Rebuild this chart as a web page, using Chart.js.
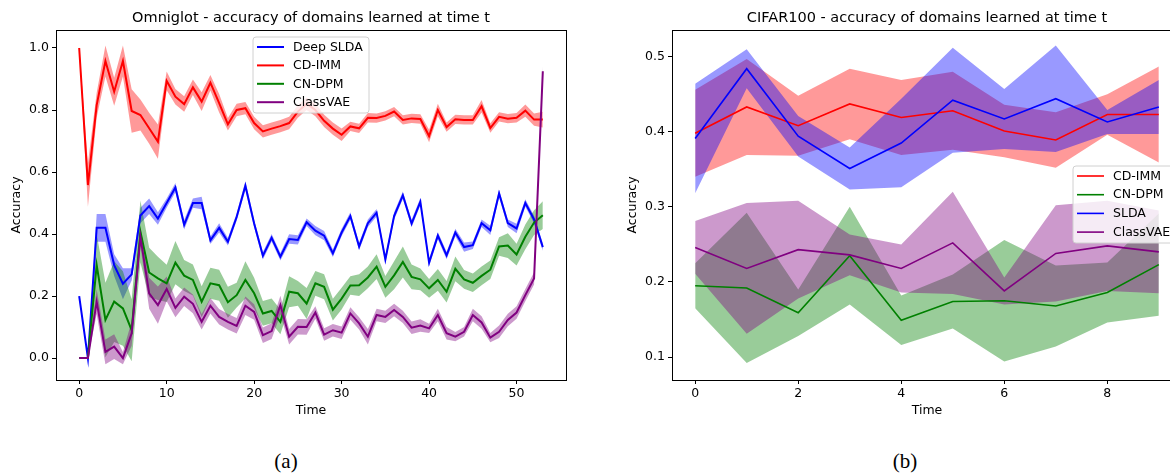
<!DOCTYPE html>
<html>
<head>
<meta charset="utf-8">
<script src="https://cdn.jsdelivr.net/npm/chart.js@4.4.1/dist/chart.umd.min.js"></script>
<style>
  html, body { margin: 0; padding: 0; background: #fff; width: 1170px; height: 473px; overflow: hidden; }
  canvas { position: absolute; top: 0; }
  .cap { position: absolute; top: 449px; width: 100px; text-align: center; line-height: 24px;
         font-family: 'Liberation Serif', 'DejaVu Serif', serif; font-size: 21px; color: #000; }
</style>
</head>
<body>
<canvas id="omniglot" width="580" height="430" style="left:0"></canvas>
<canvas id="cifar" width="580" height="430" style="left:616px"></canvas>
<div class="cap" style="left:236px">(a)</div>
<div class="cap" style="left:855px">(b)</div>
<script>
// Omniglot, 54 time steps
const omniTime = Array.from({length: 54}, (_, i) => i);
const omniSlda = [0.20, 0.00, 0.42, 0.42, 0.30, 0.24, 0.27, 0.46, 0.49, 0.45,
  0.50, 0.55, 0.43, 0.50, 0.50, 0.38, 0.42, 0.375, 0.455, 0.556,
  0.434, 0.33, 0.388, 0.327, 0.384, 0.381, 0.438, 0.411, 0.395, 0.338,
  0.405, 0.458, 0.36, 0.435, 0.469, 0.318, 0.458, 0.525, 0.434, 0.504,
  0.308, 0.395, 0.331, 0.405, 0.358, 0.364, 0.435, 0.412, 0.531, 0.435,
  0.418, 0.50, 0.447, 0.358];
const omniSldaErr = [0, 0, 0.045, 0.045, 0.035, 0.05, 0.02, 0.025, 0.025, 0.02,
  0.015, 0.015, 0.015, 0.015, 0.02, 0.012, 0.015, 0.012, 0.012, 0.015,
  0.012, 0.012, 0.012, 0.012, 0.015, 0.015, 0.012, 0.015, 0.015, 0.012,
  0.012, 0.012, 0.012, 0.012, 0.012, 0.012, 0.012, 0.012, 0.012, 0.012,
  0.012, 0.012, 0.012, 0.012, 0.015, 0.012, 0.012, 0.015, 0.012, 0.012,
  0.015, 0.012, 0.012, 0.012];
const omniCdimm = [1.0, 0.558, 0.816, 0.958, 0.859, 0.958, 0.797, 0.784, 0.741, 0.698,
  0.894, 0.843, 0.819, 0.873, 0.827, 0.888, 0.822, 0.754, 0.80, 0.806,
  0.758, 0.731, 0.74, 0.748, 0.758, 0.795, 0.82, 0.80, 0.765, 0.74,
  0.72, 0.747, 0.741, 0.775, 0.774, 0.781, 0.795, 0.768, 0.773, 0.771,
  0.716, 0.80, 0.745, 0.77, 0.768, 0.768, 0.812, 0.742, 0.778, 0.772,
  0.775, 0.798, 0.769, 0.769];
const omniCdimmErr = [0.005, 0.07, 0.04, 0.05, 0.045, 0.05, 0.07, 0.05, 0.05, 0.055,
  0.03, 0.025, 0.025, 0.025, 0.03, 0.025, 0.03, 0.02, 0.02, 0.02,
  0.02, 0.02, 0.02, 0.02, 0.02, 0.02, 0.02, 0.02, 0.02, 0.02,
  0.02, 0.015, 0.015, 0.015, 0.015, 0.015, 0.015, 0.015, 0.015, 0.015,
  0.02, 0.02, 0.015, 0.015, 0.015, 0.015, 0.02, 0.015, 0.015, 0.015,
  0.015, 0.02, 0.02, 0.025];
const omniCndpm = [0, 0, 0.30, 0.123, 0.182, 0.16, 0.09, 0.408, 0.276, 0.257,
  0.241, 0.308, 0.266, 0.252, 0.182, 0.241, 0.235, 0.18, 0.203, 0.252,
  0.209, 0.144, 0.152, 0.117, 0.214, 0.209, 0.176, 0.241, 0.23, 0.156,
  0.192, 0.234, 0.235, 0.26, 0.295, 0.23, 0.267, 0.31, 0.262, 0.254,
  0.225, 0.252, 0.214, 0.288, 0.254, 0.243, 0.265, 0.285, 0.36, 0.363,
  0.334, 0.391, 0.437, 0.461];
const omniCndpmErr = [0, 0, 0.1, 0.12, 0.13, 0.12, 0.1, 0.1, 0.08, 0.07,
  0.06, 0.07, 0.05, 0.05, 0.05, 0.05, 0.05, 0.05, 0.04, 0.06,
  0.05, 0.04, 0.04, 0.04, 0.05, 0.04, 0.05, 0.04, 0.04, 0.035,
  0.035, 0.03, 0.035, 0.035, 0.04, 0.035, 0.045, 0.05, 0.04, 0.035,
  0.03, 0.035, 0.035, 0.04, 0.03, 0.03, 0.03, 0.03, 0.03, 0.04,
  0.035, 0.04, 0.04, 0.045];
const omniClassvae = [0, 0, 0.182, 0.02, 0.037, 0.0, 0.08, 0.391, 0.209, 0.171,
  0.223, 0.162, 0.198, 0.175, 0.117, 0.169, 0.133, 0.117, 0.104, 0.169,
  0.149, 0.074, 0.087, 0.171, 0.069, 0.101, 0.10, 0.147, 0.076, 0.09,
  0.082, 0.144, 0.112, 0.069, 0.139, 0.133, 0.155, 0.133, 0.098, 0.105,
  0.096, 0.139, 0.08, 0.069, 0.085, 0.139, 0.115, 0.066, 0.085, 0.123,
  0.147, 0.203, 0.257, 0.925];
const omniClassvaeErr = [0, 0, 0.04, 0.04, 0.04, 0.02, 0.04, 0.03, 0.05, 0.06,
  0.04, 0.03, 0.03, 0.03, 0.025, 0.025, 0.025, 0.025, 0.025, 0.03,
  0.025, 0.025, 0.025, 0.03, 0.025, 0.025, 0.025, 0.02, 0.02, 0.02,
  0.02, 0.02, 0.02, 0.025, 0.02, 0.02, 0.02, 0.02, 0.02, 0.02,
  0.015, 0.02, 0.02, 0.015, 0.015, 0.02, 0.02, 0.015, 0.02, 0.02,
  0.02, 0.02, 0.02, 0.015];
const omniXTicks = [0, 10, 20, 30, 40, 50];
const omniYTicks = [0.0, 0.2, 0.4, 0.6, 0.8, 1.0];

// CIFAR100, 10 time steps
const cifarTime = [0, 1, 2, 3, 4, 5, 6, 7, 8, 9];
const cifarCdimm = [0.398, 0.433, 0.408, 0.437, 0.419, 0.428, 0.401, 0.389, 0.423, 0.423];
const cifarCdimmErr = [0.058, 0.064, 0.04, 0.047, 0.05, 0.052, 0.035, 0.037, 0.027, 0.064];
const cifarCndpm = [0.195, 0.192, 0.159, 0.235, 0.149, 0.174, 0.175, 0.168, 0.186, 0.223];
const cifarCndpmErr = [0.03, 0.1, 0.031, 0.065, 0.033, 0.036, 0.081, 0.054, 0.04, 0.068];
const cifarSlda = [0.391, 0.484, 0.394, 0.351, 0.385, 0.442, 0.417, 0.444, 0.413, 0.433];
const cifarSldaErr = [0.073, 0.026, 0.027, 0.028, 0.059, 0.07, 0.04, 0.071, 0.016, 0.036];
const cifarClassvae = [0.246, 0.218, 0.243, 0.236, 0.218, 0.252, 0.188, 0.238, 0.248, 0.24];
const cifarClassvaeErr = [0.035, 0.087, 0.065, 0.027, 0.032, 0.068, 0.018, 0.064, 0.06, 0.055];
const cifarXTicks = [0, 2, 4, 6, 8];
const cifarYTicks = [0.1, 0.2, 0.3, 0.4, 0.5];

const RED = '#ff0000', GREEN = '#008000', BLUE = '#0000ff', PURPLE = '#800080';
const shade = {
  [RED]: 'rgba(255,0,0,0.4)', [GREEN]: 'rgba(0,128,0,0.4)',
  [BLUE]: 'rgba(0,0,255,0.4)', [PURPLE]: 'rgba(128,0,128,0.4)'
};

Chart.defaults.font.family = "'DejaVu Sans', sans-serif";
Chart.defaults.color = '#000';

// mean line plus a +/- err band; later series get a lower order so they sit on top
function series(name, color, xs, mean, err, k, width) {
  const order = 10 - k;
  return [
    {label: name + ' lo', data: xs.map((x, i) => ({x, y: mean[i] - err[i]})),
     borderWidth: 0, borderColor: 'transparent', pointRadius: 0, fill: false, order},
    {label: name + ' hi', data: xs.map((x, i) => ({x, y: mean[i] + err[i]})),
     borderWidth: 0, borderColor: 'transparent', pointRadius: 0, fill: '-1',
     backgroundColor: shade[color], order},
    {label: name, data: xs.map((x, i) => ({x, y: mean[i]})),
     borderColor: color, borderWidth: width, pointRadius: 0, fill: false, order}
  ];
}

const frame = {
  id: 'frame',
  afterDatasetsDraw(chart) {
    const {ctx, chartArea: a} = chart;
    ctx.save();
    ctx.strokeStyle = '#000';
    ctx.lineWidth = 1;
    ctx.strokeRect(Math.round(a.left) + 0.5, Math.round(a.top) + 0.5,
                   Math.round(a.width), Math.round(a.height));
    ctx.restore();
  }
};

function boxLegend(box, names, colors, lw) {
  return {
    id: 'boxLegend',
    afterDraw(chart) {
      const ctx = chart.ctx;
      ctx.save();
      ctx.beginPath();
      ctx.roundRect(box.x, box.y, box.w, box.h, 3);
      ctx.fillStyle = 'rgba(255,255,255,0.8)';
      ctx.fill();
      ctx.strokeStyle = '#d0d0d0';
      ctx.lineWidth = 1;
      ctx.stroke();
      ctx.font = "12.5px 'DejaVu Sans'";
      ctx.textBaseline = 'middle';
      names.forEach((n, k) => {
        const y = box.y + 10 + k * box.gap;
        ctx.strokeStyle = colors[k];
        ctx.lineWidth = lw;
        ctx.beginPath();
        ctx.moveTo(box.x + 4, y);
        ctx.lineTo(box.x + 31, y);
        ctx.stroke();
        ctx.fillStyle = '#000';
        ctx.fillText(n, box.x + 40, y + 0.5);
      });
      ctx.restore();
    }
  };
}

function axes(xr, xTicks, yr, yTicks) {
  const tickFont = {size: 12.5};
  return {
    x: {
      type: 'linear', min: xr[0], max: xr[1],
      afterBuildTicks: s => { s.ticks = xTicks.map(v => ({value: v})); },
      afterFit: s => { s.height = 50; },
      ticks: {font: tickFont, padding: 2.5, maxRotation: 0, callback: v => String(v)},
      grid: {drawOnChartArea: false, tickLength: 4, color: '#000'},
      border: {display: false},
      title: {display: true, text: 'Time', font: {size: 12.5}, padding: {top: 0, bottom: 11.5}}
    },
    y: {
      min: yr[0], max: yr[1],
      afterBuildTicks: s => { s.ticks = yTicks.map(v => ({value: v})); },
      afterFit: s => { s.width = 56; },
      ticks: {font: tickFont, padding: 3, callback: v => v.toFixed(1)},
      grid: {drawOnChartArea: false, tickLength: 4, color: '#000'},
      border: {display: false},
      title: {display: true, text: 'Accuracy', font: {size: 12.5}, padding: {top: 9.5, bottom: 0}}
    }
  };
}

function options(title, xr, xTicks, yr, yTicks) {
  return {
    responsive: false,
    animation: false,
    layout: {padding: {top: 0.6, right: 14, left: 0, bottom: 0}},
    plugins: {
      legend: {display: false},
      tooltip: {enabled: false},
      filler: {drawTime: 'beforeDatasetsDraw'},
      title: {display: true, text: title, fullSize: false, color: '#000',
              font: {size: 14.5, weight: 'normal'}, padding: {top: 9, bottom: 3}}
    },
    scales: axes(xr, xTicks, yr, yTicks)
  };
}

new Chart(document.getElementById('omniglot'), {
  type: 'line',
  data: {datasets: [
    ...series('Deep SLDA', BLUE, omniTime, omniSlda, omniSldaErr, 0, 2),
    ...series('CD-IMM', RED, omniTime, omniCdimm, omniCdimmErr, 1, 2),
    ...series('CN-DPM', GREEN, omniTime, omniCndpm, omniCndpmErr, 2, 2),
    ...series('ClassVAE', PURPLE, omniTime, omniClassvae, omniClassvaeErr, 3, 2)
  ]},
  options: options('Omniglot - accuracy of domains learned at time t',
                   [-2.65, 55.65], omniXTicks, [-0.0706, 1.058], omniYTicks),
  plugins: [frame, boxLegend({x: 253, y: 37, w: 116, h: 76, gap: 18.4},
    ['Deep SLDA', 'CD-IMM', 'CN-DPM', 'ClassVAE'], [BLUE, RED, GREEN, PURPLE], 2)]
});

new Chart(document.getElementById('cifar'), {
  type: 'line',
  data: {datasets: [
    ...series('CD-IMM', RED, cifarTime, cifarCdimm, cifarCdimmErr, 0, 1.6),
    ...series('CN-DPM', GREEN, cifarTime, cifarCndpm, cifarCndpmErr, 1, 1.6),
    ...series('SLDA', BLUE, cifarTime, cifarSlda, cifarSldaErr, 2, 1.6),
    ...series('ClassVAE', PURPLE, cifarTime, cifarClassvae, cifarClassvaeErr, 3, 1.6)
  ]},
  options: options('CIFAR100 - accuracy of domains learned at time t',
                   [-0.45, 9.45], cifarXTicks, [0.0694, 0.5355], cifarYTicks),
  plugins: [frame, boxLegend({x: 457, y: 166, w: 104, h: 77, gap: 18.7},
    ['CD-IMM', 'CN-DPM', 'SLDA', 'ClassVAE'], [RED, GREEN, BLUE, PURPLE], 1.6)]
});
</script>
</body>
</html>
